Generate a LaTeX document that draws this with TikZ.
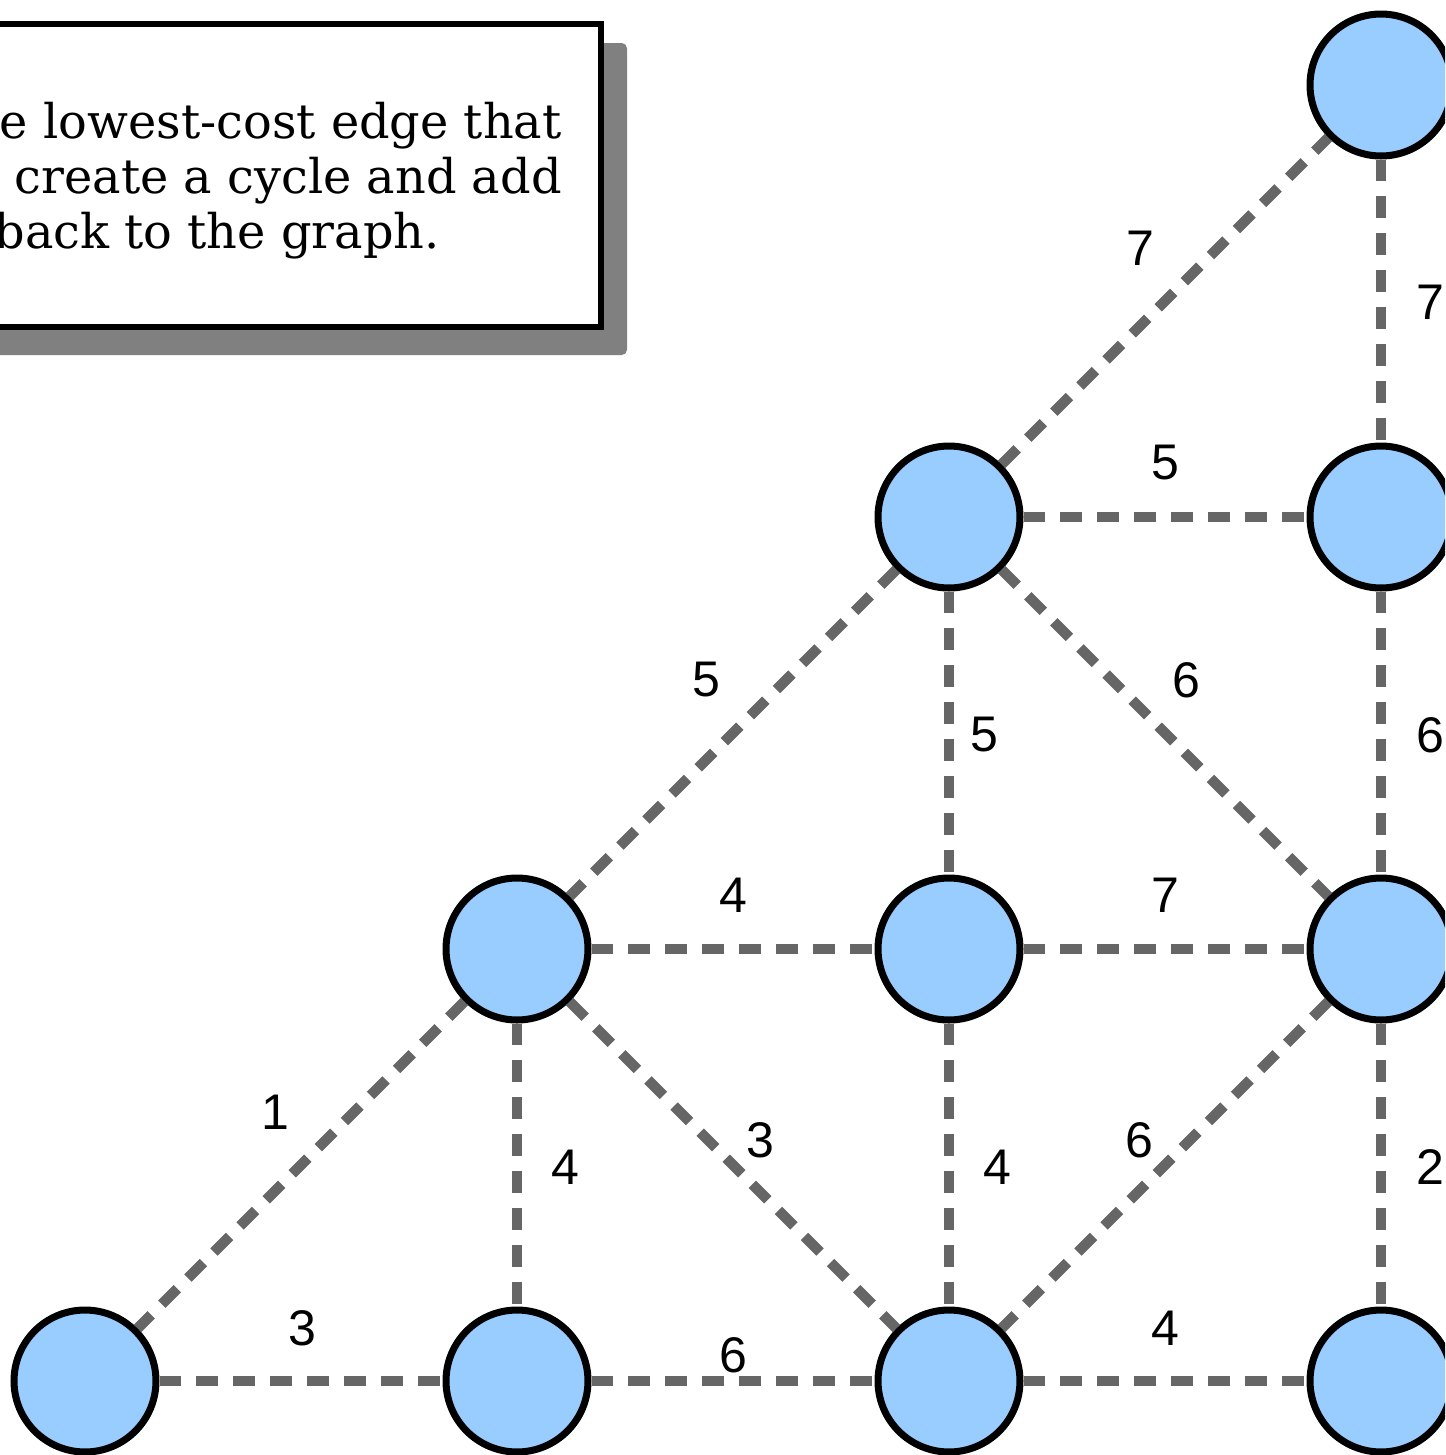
\documentclass[tikz,border=0pt]{standalone}
\usepackage{fontspec}
\setmainfont{DejaVu Serif}
\newfontfamily\labelfont{Liberation Sans}
\definecolor{nodeblue}{HTML}{99CCFF}
\definecolor{edgegray}{HTML}{666666}
\definecolor{shadowgray}{HTML}{808080}
\begin{document}
\begin{tikzpicture}[x=0.02cm,y=-0.02cm,
  vert/.style={circle, draw=black, fill=nodeblue, line width=4pt, minimum size=2.84cm, inner sep=0pt},
  edge/.style={draw=edgegray, line width=5.9pt, dash pattern=on 12.5pt off 8.5pt},
  cost/.style={font=\labelfont\fontsize{28.5}{30}\selectfont, inner sep=0pt},
  note/.style={font=\fontsize{27.2}{31}\selectfont, inner sep=0pt, anchor=base east}]
\useasboundingbox (0,0) rectangle (1445,1455);
\clip (0,0) rectangle (1445,1455);

% note box
\fill[shadowgray, rounded corners=3pt] (-30,43) rectangle (627,355);
\draw[fill=white, line width=3.6pt] (-30,24) rectangle (601,327);
\node[note] (t1) at (562,138) {e lowest-cost edge that};
\node[note] (t2) at (562,193) {create a cycle and add};
\node[note] (t3) at (440,248) {back to the graph.};

% vertices
\node[vert] (v1) at (1381,85){};
\node[vert] (v2) at (949,517){};
\node[vert] (v3) at (1381,517){};
\node[vert] (v4) at (517,949){};
\node[vert] (v5) at (949,949){};
\node[vert] (v6) at (1381,949){};
\node[vert] (v7) at (85,1381){};
\node[vert] (v8) at (517,1381){};
\node[vert] (v9) at (949,1381){};
\node[vert] (v10) at (1381,1381){};

% edges
\draw[edge] (v2) -- (v1);
\draw[edge] (v1) -- (v3);
\draw[edge] (v2) -- (v3);
\draw[edge] (v2) -- (v4);
\draw[edge] (v2) -- (v5);
\draw[edge] (v2) -- (v6);
\draw[edge] (v3) -- (v6);
\draw[edge] (v4) -- (v5);
\draw[edge] (v5) -- (v6);
\draw[edge] (v4) -- (v7);
\draw[edge] (v4) -- (v8);
\draw[edge] (v4) -- (v9);
\draw[edge] (v5) -- (v9);
\draw[edge] (v6) -- (v9);
\draw[edge] (v6) -- (v10);
\draw[edge] (v7) -- (v8);
\draw[edge] (v8) -- (v9);
\draw[edge] (v9) -- (v10);

% costs
\node[cost] (c1) at (1140,248) {7};
\node[cost] (c2) at (1430,302) {7};
\node[cost] (c3) at (1165,463) {5};
\node[cost] (c4) at (706,680) {5};
\node[cost] (c5) at (984,735) {5};
\node[cost] (c6) at (1186,680) {6};
\node[cost] (c7) at (1430,735) {6};
\node[cost] (c8) at (733,895) {4};
\node[cost] (c9) at (1165,895) {7};
\node[cost] (c10) at (275,1112) {1};
\node[cost] (c11) at (565,1167) {4};
\node[cost] (c12) at (760,1140) {3};
\node[cost] (c13) at (997,1167) {4};
\node[cost] (c14) at (1139,1140) {6};
\node[cost] (c15) at (1430,1167) {2};
\node[cost] (c16) at (302,1328) {3};
\node[cost] (c17) at (733,1355) {6};
\node[cost] (c18) at (1165,1328) {4};

\end{tikzpicture}
\end{document}
